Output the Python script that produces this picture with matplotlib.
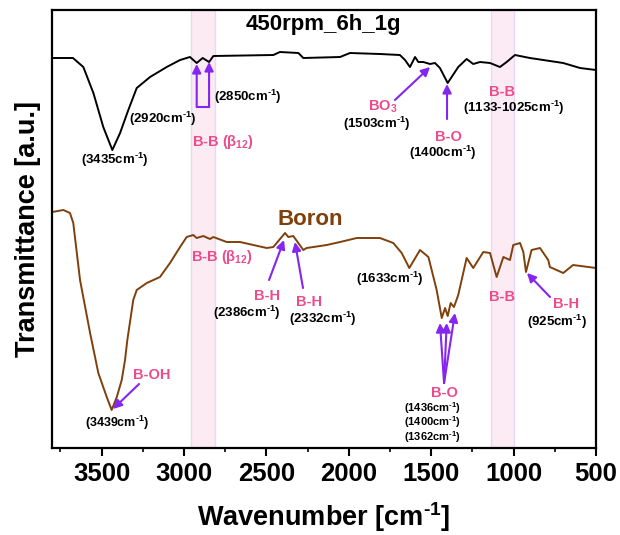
import matplotlib
matplotlib.use("Agg")
import matplotlib.pyplot as plt
import matplotlib.ticker as ticker

plt.rcParams['font.family'] = 'Liberation Sans'
plt.rcParams['font.weight'] = 'bold'
plt.rcParams['mathtext.fontset'] = 'custom'
plt.rcParams['mathtext.rm'] = 'Liberation Sans:bold'
plt.rcParams['mathtext.it'] = 'Liberation Sans:italic'
plt.rcParams['mathtext.bf'] = 'Liberation Sans:bold'

# 450rpm_6h_1g sample (upper curve), wavenumber in cm-1, transmittance in a.u.
wn_mill = [3800, 3674, 3611, 3550, 3490, 3435, 3388, 3338, 3287, 3206,
           3105, 3024, 2964, 2923, 2887, 2848, 2822, 2458, 2418, 2306,
           2276, 2053, 1993, 1811, 1690, 1659, 1629, 1598, 1578, 1548,
           1507, 1477, 1447, 1400, 1376, 1336, 1285, 1245, 1204, 1143,
           1083, 1042, 992, 901, 699, 597, 500]
t_mill = [390, 390, 381, 355, 321, 298, 315, 338, 360, 371,
          381, 388, 391, 385, 390, 386, 392, 393, 396, 395,
          390, 391, 395, 394, 393, 388, 381, 391, 386, 386,
          384, 385, 380, 365, 371, 381, 389, 384, 386, 385,
          381, 386, 393, 390, 385, 380, 378]

# pristine boron (lower curve)
wn_boron = [3800, 3732, 3692, 3672, 3631, 3570, 3520, 3469, 3439, 3408,
            3378, 3358, 3344, 3308, 3287, 3226, 3146, 3085, 3024, 2984,
            2944, 2923, 2883, 2842, 2822, 2741, 2660, 2498, 2458, 2387,
            2367, 2337, 2276, 2256, 2134, 2053, 1952, 1811, 1730, 1679,
            1633, 1568, 1517, 1467, 1436, 1416, 1400, 1382, 1362, 1336,
            1285, 1245, 1184, 1143, 1103, 1062, 1022, 1002, 961, 941,
            925, 891, 840, 790, 780, 699, 639, 500]
t_boron = [236, 238, 235, 225, 168, 115, 75, 51, 38, 51,
           68, 88, 108, 148, 158, 165, 171, 185, 201, 211,
           213, 210, 212, 209, 211, 206, 206, 200, 201, 215,
           211, 212, 198, 200, 203, 206, 210, 210, 205, 195,
           180, 198, 191, 158, 130, 140, 132, 145, 141, 153,
           190, 180, 196, 195, 171, 191, 188, 203, 205, 196,
           176, 198, 200, 188, 181, 175, 183, 180]

# shaded B-B regions
bands = [(2960, 2815), (1140, 1000)]

pink = '#ec4b8c'
violet = '#8425f0'
brown = '#80400b'
CM = r'cm$^{\text{-}1}$'
BETA = r'B-B $(\mathrm{\beta}_{12})$'

fig = plt.figure(figsize=(6.2, 5.35), dpi=100)
ax = fig.add_axes([0.0839, 0.1626, 0.8774, 0.8187])

for hi, lo in bands:
    ax.axvspan(lo, hi, facecolor='#fcebf3', edgecolor='#e6d8f8', lw=1, zorder=0)

ax.plot(wn_mill, t_mill, color='black', lw=1.4, zorder=2)
ax.plot(wn_boron, t_boron, color=brown, lw=1.4, zorder=2)

ax.set_xlim(3801, 500)
ax.set_ylim(0, 438)
ax.xaxis.set_major_locator(ticker.MultipleLocator(500))
ax.xaxis.set_minor_locator(ticker.MultipleLocator(250))
ax.tick_params(axis='x', which='major', direction='out', length=6, width=1.5,
               labelsize=18.5, pad=4)
ax.tick_params(axis='x', which='minor', direction='out', length=3, width=1.2)
ax.set_yticks([])
for s in ax.spines.values():
    s.set_linewidth(1.6)

ax.set_xlabel('Wavenumber [' + CM + ']', fontsize=19.5, fontweight='bold', labelpad=10)
ax.set_ylabel('Transmittance [a.u.]', fontsize=19.5, fontweight='bold', labelpad=8)


def lab(x, y, s, color='black', size=9.5):
    ax.text(x, y, s, color=color, fontsize=size, fontweight='bold',
            ha='center', va='center', zorder=4)


def arrow(x0, y0, x1, y1):
    ax.annotate('', xy=(x1, y1), xytext=(x0, y0),
                arrowprops=dict(arrowstyle='-|>', color=violet, lw=1.5,
                                mutation_scale=13, shrinkA=0, shrinkB=0),
                zorder=5)


# upper curve
lab(2157, 424, '450rpm_6h_1g', size=16)
lab(3419, 288, '(3435' + CM + ')')
lab(3127, 329, '(2920' + CM + ')')
lab(2612, 351, '(2850' + CM + ')')
lab(2763, 306, BETA, color=pink, size=10.5)
ax.plot([2923, 2848], [341, 341], color=violet, lw=1.5, zorder=5)
arrow(2923, 341, 2923, 384)
arrow(2848, 341, 2848, 386)
lab(1793, 341, 'BO$_3$', color=pink, size=10.5)
lab(1829, 324, '(1503' + CM + ')')
arrow(1720, 348, 1507, 381)
lab(1398, 311, 'B-O', color=pink, size=10.5)
lab(1428, 295, '(1400' + CM + ')')
arrow(1404, 329, 1404, 364)
lab(1071, 356, 'B-B', color=pink, size=10.5)
lab(998, 340, '(1133-1025' + CM + ')')

# lower curve
lab(2235, 229, 'Boron', color=brown, size=16)
lab(2769, 191, BETA, color=pink, size=10.5)
lab(2496, 152, 'B-H', color=pink, size=10.5)
lab(2618, 135, '(2386' + CM + ')')
arrow(2484, 168, 2393, 208)
lab(2242, 146, 'B-H', color=pink, size=10.5)
lab(2156, 129, '(2332' + CM + ')')
arrow(2278, 160, 2327, 206)
lab(1750, 169, '(1633' + CM + ')')
lab(1071, 151, 'B-B', color=pink, size=10.5)
lab(682, 144, 'B-H', color=pink, size=10.5)
lab(737, 126, '(925' + CM + ')')
arrow(779, 151, 919, 175)
arrow(1422, 65, 1447, 125)
arrow(1422, 65, 1406, 125)
arrow(1422, 65, 1356, 135)
lab(1422, 55, 'B-O', color=pink, size=10.5)
lab(1495, 40, '(1436' + CM + ')', size=8)
lab(1495, 25.5, '(1400' + CM + ')', size=8)
lab(1495, 11, '(1362' + CM + ')', size=8)
lab(3194, 73, 'B-OH', color=pink, size=10.5)
arrow(3273, 64, 3431, 39)
lab(3407, 25, '(3439' + CM + ')', size=9)

fig.savefig('out.png', dpi=100)
